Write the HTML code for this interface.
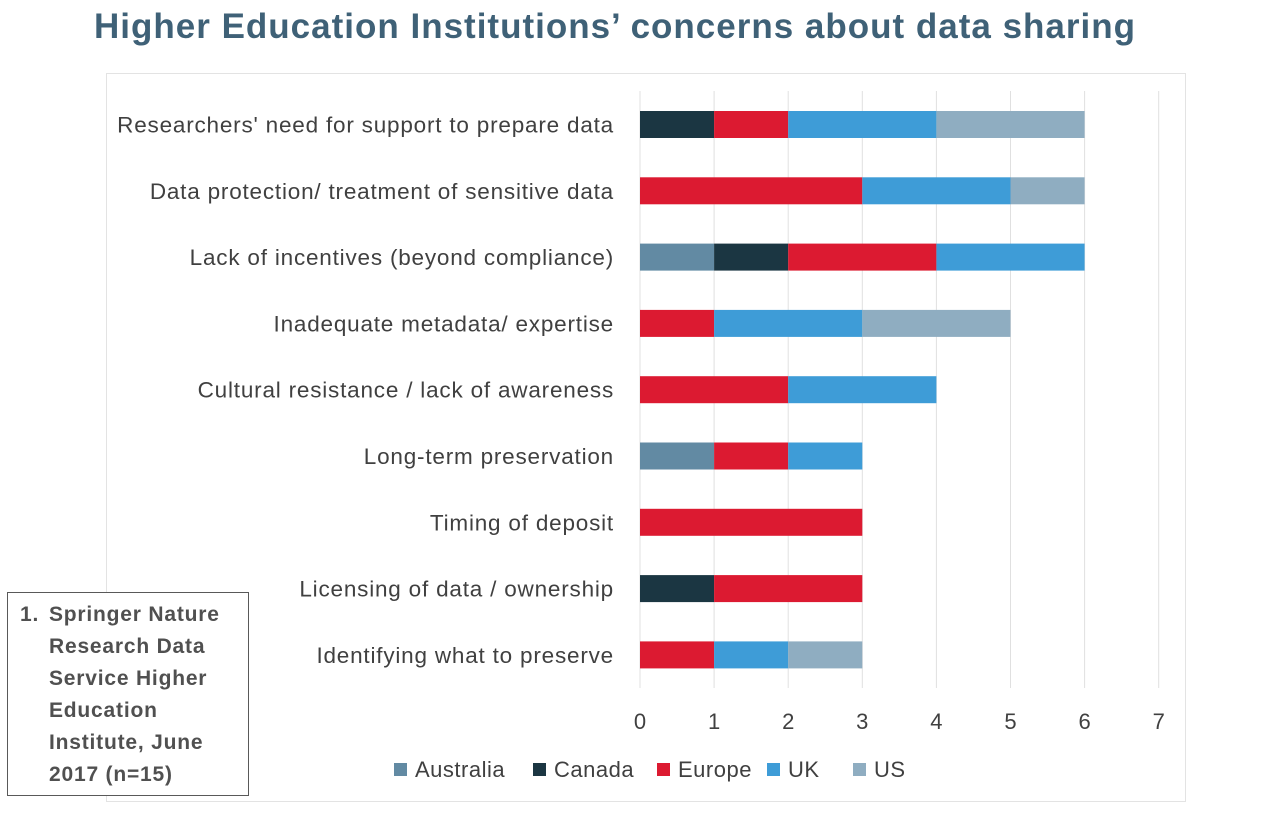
<!DOCTYPE html>
<html><head><meta charset="utf-8"><style>
body{margin:0;background:#fff;width:1265px;height:811px;overflow:hidden;font-family:"Liberation Sans",sans-serif}
</style></head><body>
<svg width="1265" height="811" xmlns="http://www.w3.org/2000/svg">
<text x="615" y="38" text-anchor="middle" font-size="35" letter-spacing="1" font-weight="bold" fill="#3f6177">Higher Education Institutions’ concerns about data sharing</text>
<rect x="106.5" y="73.5" width="1079" height="728" fill="none" stroke="#e3e3e3"/>
<g id="grid"></g><g id="bars"></g><g id="labels"></g><g id="ticks"></g><g id="legend"></g>
<rect x="7.5" y="592.5" width="241" height="203" fill="#fff" stroke="#595959"/>
<g font-size="21" font-weight="bold" fill="#505050" letter-spacing="0.8">
<text x="20" y="621">1.</text>
<text x="49" y="621">Springer  Nature</text>
<text x="49" y="653">Research Data</text>
<text x="49" y="685">Service  Higher</text>
<text x="49" y="717">Education</text>
<text x="49" y="749">Institute, June</text>
<text x="49" y="781">2017 (n=15)</text>
</g>
</svg>
<script>
const categories=["Researchers' need for support to prepare data","Data protection/ treatment of sensitive data","Lack of incentives (beyond compliance)","Inadequate metadata/ expertise","Cultural resistance  / lack of awareness","Long-term preservation","Timing of deposit","Licensing of data / ownership","Identifying what to preserve"];
const seriesNames=["Australia","Canada","Europe","UK","US"];
const seriesColors=["#628aa3","#1b3642","#dc1a31","#3e9cd7","#8fadc1"];
const australia=[0,0,1,0,0,1,0,0,0];
const canada=[1,0,1,0,0,0,0,1,0];
const europe=[1,3,2,1,2,1,3,2,1];
const uk=[2,2,2,2,2,1,0,0,1];
const us=[2,1,0,2,0,0,0,0,1];
const xTicks=[0,1,2,3,4,5,6,7];
const series=[australia,canada,europe,uk,us];
const NS="http://www.w3.org/2000/svg";
const x=v=>640+v*74.1;
const y=i=>124.5+i*66.3;
function mk(tag,attrs,parent,text){const e=document.createElementNS(NS,tag);for(const k in attrs)e.setAttribute(k,attrs[k]);if(text!==undefined)e.textContent=text;document.getElementById(parent).appendChild(e);return e;}
xTicks.forEach(t=>{
 const g=mk('line',{x1:x(t),x2:x(t),y1:91,y2:688,stroke:'#e0e0e0','stroke-width':1},'grid');
 
 
 const l=mk('text',{x:x(t),y:729,'text-anchor':'middle','font-size':22,fill:'#404040'},'ticks',String(t));
 
 
});
categories.forEach((c,i)=>{
 const l=mk('text',{x:614,y:y(i)+8,'text-anchor':'end','font-size':22.5,'letter-spacing':0.8,fill:'#404040'},'labels',c);
 
 
 let acc=0;
 series.forEach((s,k)=>{
  if(s[i]>0){
   const r=mk('rect',{x:x(acc),y:y(i)-13.5,width:x(acc+s[i])-x(acc),height:27,fill:seriesColors[k]},'bars');
   
   
  }
  acc+=s[i];
 });
});
const lx=[394,533,657,767,853];
seriesNames.forEach((n,k)=>{
 const r=mk('rect',{x:lx[k],y:763,width:13,height:13,fill:seriesColors[k]},'legend');
 
 
 const t=mk('text',{x:lx[k]+21,y:777,'font-size':22,'letter-spacing':0.5,fill:'#404040'},'legend',n);
 
 
});
</script>
</body></html>
